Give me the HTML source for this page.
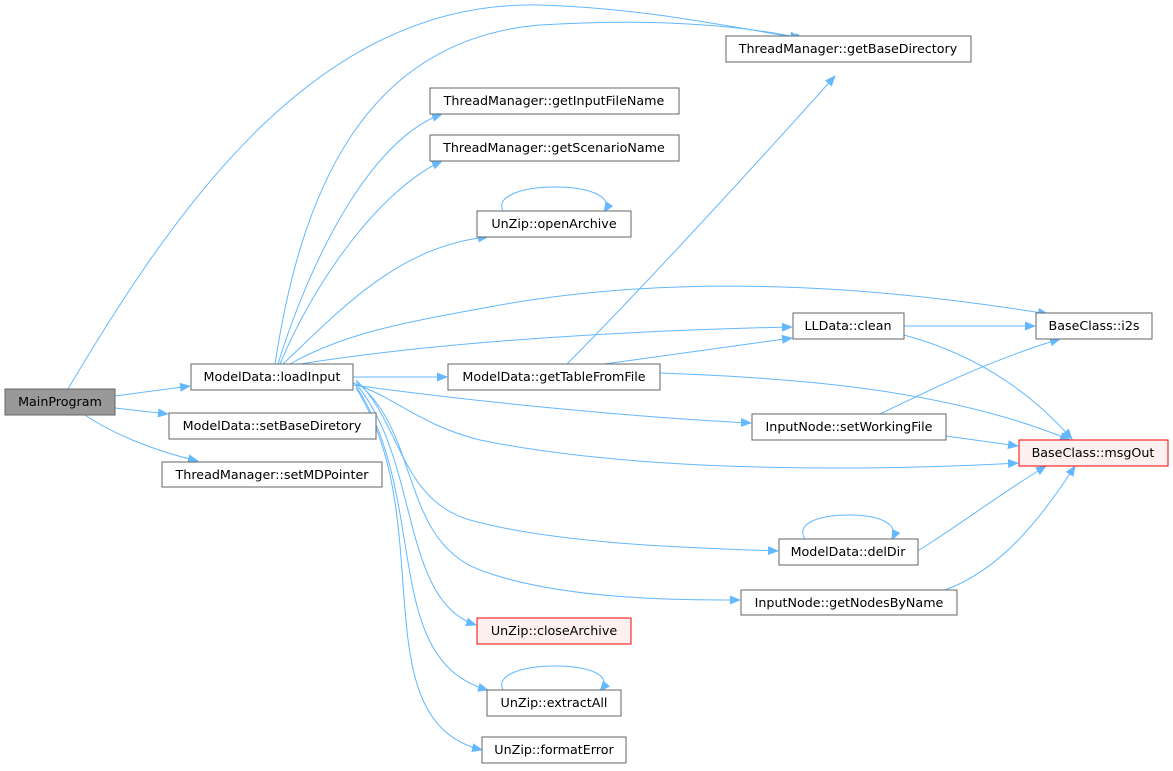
<!DOCTYPE html>
<html><head><meta charset="utf-8"><style>
html,body{margin:0;padding:0;background:#fff;}
svg{display:block;}
text{font-family:"DejaVu Sans","Liberation Sans",sans-serif;font-size:12.7px;fill:#000;}
.n{fill:#fff;stroke:#666;stroke-width:1;}
.e{fill:none;stroke:#63b8ff;stroke-width:1;}
</style></head><body>
<svg width="1173" height="771" viewBox="0 0 1173 771" xmlns="http://www.w3.org/2000/svg">
<defs><marker id="a" markerWidth="11" markerHeight="9" refX="10" refY="4.5" orient="auto" markerUnits="userSpaceOnUse"><path d="M0,0 L11,4.5 L0,9 Z" fill="#63b8ff"/></marker></defs>
<g class="e" marker-end="url(#a)">
<path d="M115,396 L190,386"/>
<path d="M115,408 L168,414"/>
<path d="M85,415 C110,432 150,450 198,461"/>
<path d="M68,389 C180,200 320,0 540,5 C640,8 720,25 805,39"/>
<path d="M275,364 C300,200 360,40 540,25 C650,18 740,25 800,38"/>
<path d="M278,364 C310,260 370,140 442,114"/>
<path d="M280,364 C315,280 380,190 442,161"/>
<path d="M283,364 C340,310 400,245 488,237"/>
<path d="M290,364 C350,330 420,320 500,305 C700,270 900,290 1048,314"/>
<path d="M300,364 C450,340 650,330 792,327"/>
<path d="M353,377 L447,377"/>
<path d="M353,385 C500,405 650,418 751,423"/>
<path d="M353,383 C400,400 420,425 480,440 C650,475 900,470 1018,463"/>
<path d="M356,380 C400,420 400,500 470,520 C560,545 700,548 778,551"/>
<path d="M356,382 C420,430 400,540 480,570 C560,600 680,600 740,600"/>
<path d="M356,384 C420,460 400,600 476,625"/>
<path d="M356,386 C430,500 380,660 488,690"/>
<path d="M356,388 C440,520 360,720 482,750"/>
<path d="M567,364 C650,280 760,160 835,76"/>
<path d="M604,364 L792,338"/>
<path d="M660,373 C800,378 950,390 1070,440"/>
<path d="M904,326 L1035,326"/>
<path d="M904,335 C960,350 1020,380 1072,439"/>
<path d="M880,414 C930,390 990,360 1060,339"/>
<path d="M946,436 L1018,446"/>
<path d="M895,564 C940,540 990,500 1046,466"/>
<path d="M945,590 C1000,570 1040,520 1075,466"/>
<path d="M503,211 C495,195 525,187 555,187 C585,187 615,195 604,212"/>
<path d="M503,690 C495,674 525,666 555,666 C585,666 615,674 600,691"/>
<path d="M805,539 C795,523 820,515 849,515 C878,515 900,523 892,540"/>
</g>
<rect x="5" y="389" width="110" height="26" fill="#999" stroke="#666"/><text x="60" y="406" text-anchor="middle">MainProgram</text>
<rect class="n" x="191" y="364" width="162" height="26"/><text x="272" y="381" text-anchor="middle">ModelData::loadInput</text>
<rect class="n" x="169" y="413" width="207" height="26"/><text x="272" y="430" text-anchor="middle">ModelData::setBaseDiretory</text>
<rect class="n" x="162" y="462" width="220" height="25"/><text x="272" y="479" text-anchor="middle">ThreadManager::setMDPointer</text>
<rect class="n" x="726" y="36" width="245" height="26"/><text x="848" y="53" text-anchor="middle">ThreadManager::getBaseDirectory</text>
<rect class="n" x="430" y="88" width="249" height="26"/><text x="554" y="105" text-anchor="middle">ThreadManager::getInputFileName</text>
<rect class="n" x="430" y="135" width="249" height="26"/><text x="554" y="152" text-anchor="middle">ThreadManager::getScenarioName</text>
<rect class="n" x="477" y="211" width="154" height="26"/><text x="554" y="228" text-anchor="middle">UnZip::openArchive</text>
<rect class="n" x="793" y="313" width="111" height="26"/><text x="848" y="330" text-anchor="middle">LLData::clean</text>
<rect class="n" x="1036" y="313" width="116" height="26"/><text x="1094" y="330" text-anchor="middle">BaseClass::i2s</text>
<rect class="n" x="448" y="364" width="212" height="26"/><text x="554" y="381" text-anchor="middle">ModelData::getTableFromFile</text>
<rect class="n" x="752" y="414" width="194" height="26"/><text x="849" y="431" text-anchor="middle">InputNode::setWorkingFile</text>
<rect x="1019" y="440" width="149" height="26" fill="#fff0f0" stroke="#f00"/><text x="1093" y="457" text-anchor="middle">BaseClass::msgOut</text>
<rect class="n" x="779" y="539" width="139" height="26"/><text x="848" y="556" text-anchor="middle">ModelData::delDir</text>
<rect class="n" x="741" y="590" width="216" height="25"/><text x="849" y="607" text-anchor="middle">InputNode::getNodesByName</text>
<rect x="477" y="618" width="154" height="26" fill="#fff0f0" stroke="#f00"/><text x="554" y="635" text-anchor="middle">UnZip::closeArchive</text>
<rect class="n" x="487" y="690" width="134" height="26"/><text x="554" y="707" text-anchor="middle">UnZip::extractAll</text>
<rect class="n" x="482" y="737" width="144" height="26"/><text x="554" y="754" text-anchor="middle">UnZip::formatError</text>
</svg>
</body></html>
